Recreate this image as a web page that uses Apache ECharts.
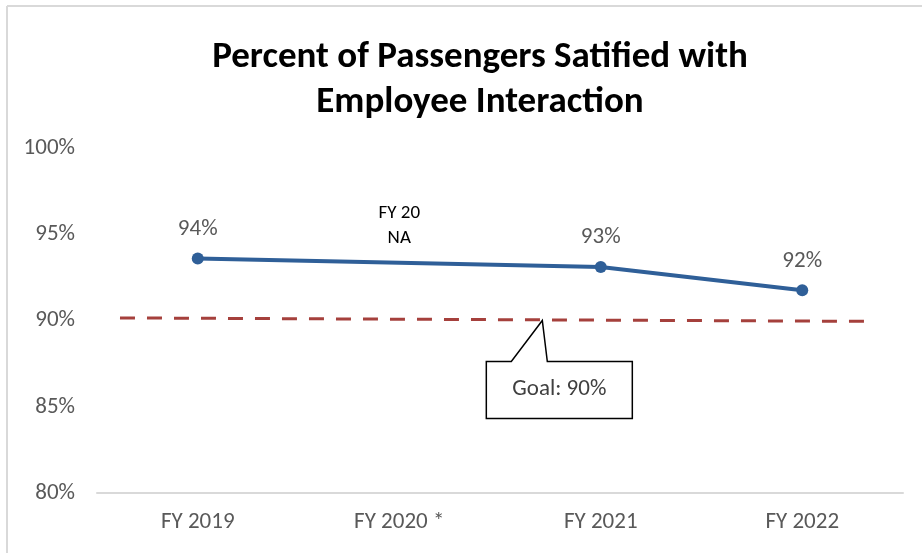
<!DOCTYPE html>
<html><head><meta charset="utf-8">
<script src="https://cdn.jsdelivr.net/npm/echarts@6/dist/echarts.min.js"></script>
<style>html,body{margin:0;padding:0;background:#fff}#c{width:922px;height:553px}</style>
</head><body><div id="c"></div>
<script>
var categories = ['FY 2019', 'FY 2020 *', 'FY 2021', 'FY 2022'];
var satisfied = [93.6, null, 93.1, 91.75];
var goalX = [-0.386, 3.31];
var goalY = [90.15, 89.95];
var yTicks = [80, 85, 90, 95, 100];
var goalText = 'Goal: 90%';
var naText = 'FY 20\nNA';
var titleText = 'Percent of Passengers Satified with\nEmployee Interaction';

var FONT = "'Carlito','Liberation Sans Narrow','Liberation Sans',sans-serif";
var chart = echarts.init(document.getElementById('c'), null, {renderer: 'canvas'});
var goalData = goalX.map(function (x, i) { return [x, goalY[i]]; });

chart.setOption({
  animation: false,
  backgroundColor: '#fff',
  title: {
    text: titleText, left: 475, top: 30, textAlign: 'center',
    textStyle: {fontFamily: "'Carlito','Open Sans','Liberation Sans',sans-serif", fontWeight: 'bold', fontSize: 37, lineHeight: 45, color: '#000'}
  },
  grid: {left: 97, right: 19, top: 148, bottom: 60},
  xAxis: [{
    type: 'category', data: categories, boundaryGap: true,
    axisLine: {lineStyle: {color: '#d9d9d9', width: 2}},
    axisTick: {show: false},
    axisLabel: {color: '#595959', fontSize: 23, fontFamily: FONT, margin: 18}
  }, {
    type: 'value', min: -0.5, max: 3.5, show: false
  }],
  yAxis: {
    type: 'value', min: 80, max: 100, interval: 5,
    axisLine: {show: false}, axisTick: {show: false}, splitLine: {show: false},
    axisLabel: {color: '#595959', fontSize: 23, fontFamily: FONT, margin: 22,
      formatter: function (v) { return yTicks.indexOf(v) >= 0 ? v + '%' : ''; }}
  },
  series: [{
    type: 'line', data: goalData, xAxisIndex: 1, symbol: 'none',
    lineStyle: {color: '#a5403c', width: 3, type: [15, 12]}, z: 2, silent: true
  }, {
    type: 'line', data: satisfied, connectNulls: true,
    symbol: 'circle', symbolSize: 12,
    lineStyle: {color: '#2f5f98', width: 4},
    itemStyle: {color: '#2f5f98'},
    label: {show: true, position: 'top', distance: 12, color: '#595959', fontSize: 23, fontFamily: FONT,
      formatter: function (p) { return Math.round(p.value) + '%'; }},
    z: 3
  }]
});

function drawAnnotations() {
  var tip = chart.convertToPixel({xAxisIndex: 1, yAxisIndex: 0}, [1.71, 90.0]);
  var na = chart.convertToPixel({xAxisIndex: 0, yAxisIndex: 0}, [1, 95.5]);
  var bx = tip[0] - 56, by = tip[1] + 41, bw = 146, bh = 57;
  chart.setOption({
    graphic: [
      {type: 'line', shape: {x1: 7, y1: 6, x2: 922, y2: 6}, style: {stroke: '#d9d9d9', lineWidth: 2}},
      {type: 'line', shape: {x1: 7, y1: 6, x2: 7, y2: 553}, style: {stroke: '#d9d9d9', lineWidth: 2}},
      {type: 'polygon', z: 10, shape: {points: [
        [bx, by], [bx + 25, by], [tip[0], tip[1]], [bx + 61, by], [bx + bw, by],
        [bx + bw, by + bh], [bx, by + bh]]},
        style: {fill: '#fff', stroke: '#000', lineWidth: 1.5}},
      {type: 'text', z: 11, x: bx + bw / 2, y: by + bh / 2 - 1,
        style: {text: goalText, textAlign: 'center', textVerticalAlign: 'middle', fill: '#404040', fontSize: 23, fontFamily: FONT}},
      {type: 'text', z: 11, x: na[0], y: na[1],
        style: {text: naText, textAlign: 'center', textVerticalAlign: 'middle', fill: '#000', fontSize: 19, lineHeight: 25, fontFamily: FONT}}
    ]
  });
}
drawAnnotations();
</script></body></html>
